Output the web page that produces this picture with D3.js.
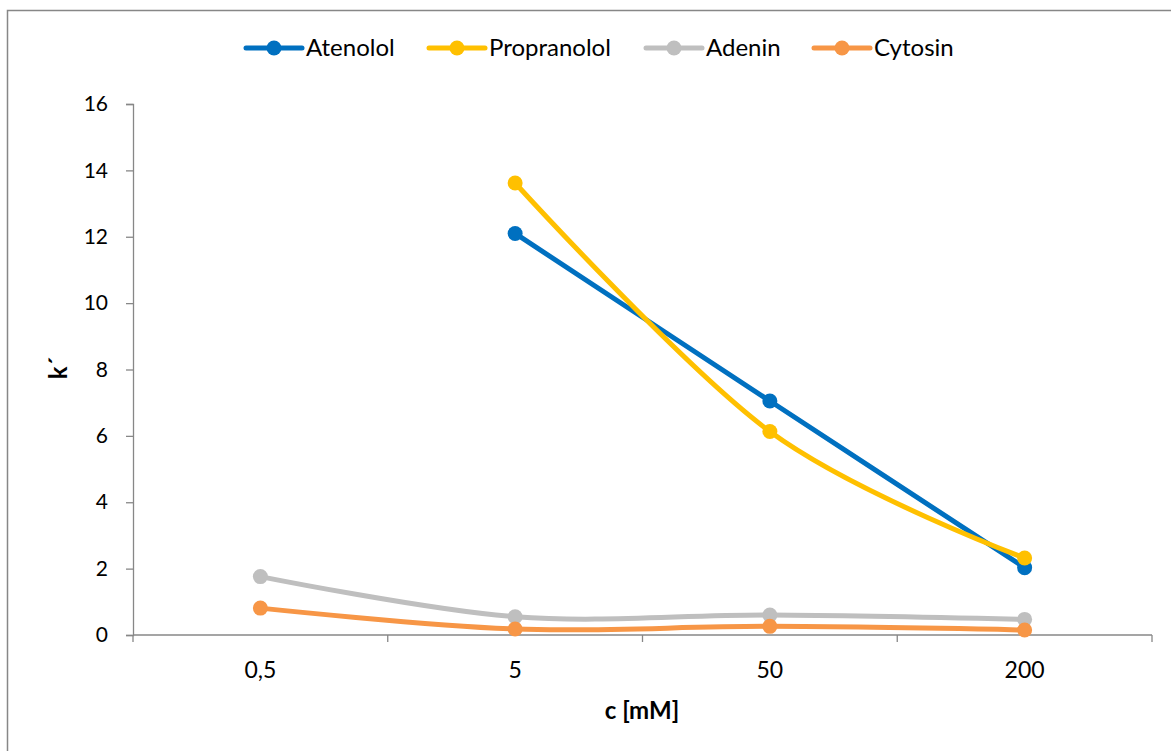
<!DOCTYPE html>
<html>
<head>
<meta charset="utf-8">
<script src="https://cdn.jsdelivr.net/npm/d3@7"></script>
<style>
  html, body { margin: 0; padding: 0; background: #fff; }
  svg { display: block; font-family: Lato, "Open Sans", "Liberation Sans", sans-serif; }
</style>
</head>
<body>
<svg id="chart" width="1171" height="751"></svg>
<script>
// Concentrations (category axis)
const categories = ["0,5", "5", "50", "200"];

// Retention factor k' per analyte
const atenolol    = [null, 12.1, 7.05, 2.03];
const propranolol = [null, 13.62, 6.13, 2.32];
const adenin      = [1.76, 0.55, 0.6, 0.47];
const cytosin     = [0.81, 0.18, 0.26, 0.15];

const seriesNames  = ["Atenolol", "Propranolol", "Adenin", "Cytosin"];
const seriesValues = [atenolol, propranolol, adenin, cytosin];
const seriesColors = ["#0070C0", "#FFC000", "#BFBFBF", "#F79646"];

const yTicks = [0, 2, 4, 6, 8, 10, 12, 14, 16];

const svg = d3.select("#chart");
const plot = { left: 133, right: 1152, top: 104, bottom: 635 };
const axisColor = "#878787";

// Outer frame
svg.append("rect")
  .attr("x", 7.5).attr("y", 10.5)
  .attr("width", 1200).attr("height", 800)
  .attr("fill", "none").attr("stroke", axisColor).attr("stroke-width", 1.5);

const x = d3.scaleBand().domain(categories).range([plot.left, plot.right]).padding(0);
const y = d3.scaleLinear().domain([0, 16]).range([plot.bottom, plot.top]);
const xc = c => x(c) + x.bandwidth() / 2;

// Y axis
const yAxis = svg.append("g")
  .attr("transform", `translate(${plot.left},0)`)
  .call(d3.axisLeft(y).tickValues(yTicks).tickSize(7).tickPadding(18).tickFormat(d3.format("d")));
yAxis.select(".domain").attr("stroke", axisColor).attr("stroke-width", 1.3);
yAxis.selectAll(".tick line").attr("stroke", axisColor).attr("stroke-width", 1.3);
yAxis.selectAll(".tick text").attr("fill", "#000").style("font-size", "21px")
  .style("font-family", "Lato, 'Open Sans', sans-serif");

// X axis: ticks at category boundaries, labels centred in bands
const xAxisG = svg.append("g").attr("transform", `translate(0,${plot.bottom})`);
xAxisG.append("line")
  .attr("x1", plot.left).attr("x2", plot.right)
  .attr("stroke", axisColor).attr("stroke-width", 1.3);
const boundaries = categories.map(c => x(c)).concat([plot.right]);
xAxisG.selectAll("line.tk").data(boundaries).join("line")
  .attr("class", "tk")
  .attr("x1", d => d).attr("x2", d => d).attr("y1", 0).attr("y2", 7)
  .attr("stroke", axisColor).attr("stroke-width", 1.3);
xAxisG.selectAll("text").data(categories).join("text")
  .attr("x", d => xc(d)).attr("y", 43)
  .attr("text-anchor", "middle")
  .style("font-size", "23px").attr("fill", "#000")
  .text(d => d);

// Axis titles
svg.append("text")
  .attr("transform", "translate(67,368) rotate(-90)")
  .attr("text-anchor", "middle")
  .style("font-size", "24px").style("font-weight", "bold")
  .text("k´");
svg.append("text")
  .attr("x", 642).attr("y", 719)
  .attr("text-anchor", "middle")
  .style("font-size", "24px").style("font-weight", "bold")
  .text("c [mM]");

// Series: smoothed lines with round markers
const line = d3.line()
  .defined(d => d.v != null)
  .x(d => xc(d.c))
  .y(d => y(d.v))
  .curve(d3.curveCatmullRom.alpha(0));

seriesValues.forEach((vals, i) => {
  const pts = categories.map((c, j) => ({ c, v: vals[j] }));
  const g = svg.append("g");
  g.append("path")
    .datum(pts)
    .attr("d", line)
    .attr("fill", "none")
    .attr("stroke", seriesColors[i])
    .attr("stroke-width", 5)
    .attr("stroke-linejoin", "round")
    .attr("stroke-linecap", "round");
  g.selectAll("circle").data(pts.filter(d => d.v != null)).join("circle")
    .attr("cx", d => xc(d.c)).attr("cy", d => y(d.v))
    .attr("r", 7.5).attr("fill", seriesColors[i]);
});

// Legend
const legendX = [246, 429, 646, 814];
const legend = svg.append("g").attr("transform", "translate(0,48)");
seriesNames.forEach((name, i) => {
  const g = legend.append("g").attr("transform", `translate(${legendX[i]},0)`);
  g.append("line").attr("x1", 0).attr("x2", 56)
    .attr("stroke", seriesColors[i]).attr("stroke-width", 5).attr("stroke-linecap", "round");
  g.append("circle").attr("cx", 28).attr("cy", 0).attr("r", 7.5).attr("fill", seriesColors[i]);
  g.append("text").attr("x", 60).attr("y", 8)
    .style("font-size", "24px").attr("fill", "#000").text(name);
});
</script>
</body>
</html>
